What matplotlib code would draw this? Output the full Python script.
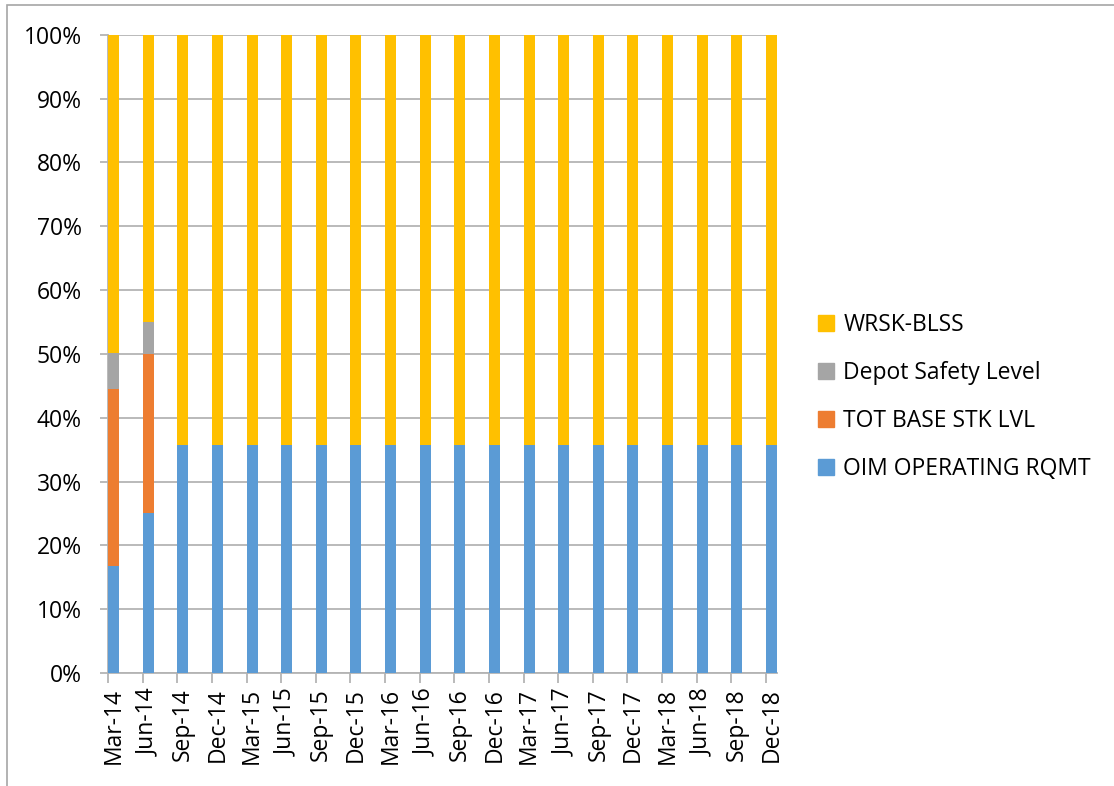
import matplotlib.pyplot as plt
from matplotlib.patches import Rectangle, Patch
import numpy as np

plt.rcParams['font.family'] = ['Open Sans', 'DejaVu Sans']

quarters = ['Mar-14', 'Jun-14', 'Sep-14', 'Dec-14', 'Mar-15', 'Jun-15', 'Sep-15', 'Dec-15',
            'Mar-16', 'Jun-16', 'Sep-16', 'Dec-16', 'Mar-17', 'Jun-17', 'Sep-17', 'Dec-17',
            'Mar-18', 'Jun-18', 'Sep-18', 'Dec-18']
# percent of total per quarter
oim_operating = [16.7, 25.0] + [35.7] * 18
tot_base_stk = [27.8, 25.0] + [0.0] * 18
depot_safety = [5.6, 5.0] + [0.0] * 18
wrsk_blss = [50.0, 45.0] + [64.3] * 18

series = [
    ('OIM OPERATING RQMT', oim_operating, '#5B9BD5'),
    ('TOT BASE STK LVL', tot_base_stk, '#ED7D31'),
    ('Depot Safety Level', depot_safety, '#A5A5A5'),
    ('WRSK-BLSS', wrsk_blss, '#FFC000'),
]

fig = plt.figure(figsize=(11.14, 7.86), dpi=100)
ax = fig.add_axes([108 / 1114, 113 / 786, 669 / 1114, 638.3 / 786])

# chart area border (Excel style)
fig.patches.append(Rectangle((7 / 1114, -0.1), 1.2, 1 - 5 / 786 + 0.1, transform=fig.transFigure,
                             fill=False, edgecolor='#A6A6A6', linewidth=1.2, zorder=0))

x = np.arange(len(quarters))
bw = 0.318
bottom = np.zeros(len(quarters))
for name, vals, col in series:
    ax.bar(x, vals, bw, bottom=bottom, align='edge', color=col, label=name, zorder=3)
    bottom += np.array(vals)

ax.set_xlim(0, len(quarters) - 1 + bw)
ax.set_ylim(0, 100)
ax.set_yticks(range(0, 101, 10))
ax.set_yticklabels([f'{v}%' for v in range(0, 101, 10)])
ax.yaxis.grid(True, color='#B4B4B4', linewidth=1.3, zorder=0)
ax.tick_params(axis='y', length=5.8, width=1.3, color='#B4B4B4', pad=13, labelsize=16.5)

ax.set_xticks(x)
ax.set_xticklabels([])
ax.set_xticks(x + bw / 2, minor=True)
ax.set_xticklabels(quarters, minor=True, rotation=90, fontsize=16.5)
ax.tick_params(axis='x', which='major', length=7, width=1.3, color='#B4B4B4')
ax.tick_params(axis='x', which='minor', length=0, pad=11)

for s in ['top', 'right']:
    ax.spines[s].set_visible(False)
for s in ['left', 'bottom']:
    ax.spines[s].set_color('#B4B4B4')
    ax.spines[s].set_linewidth(1.3)

handles = [Patch(color=col, label=name) for name, vals, col in series][::-1]
fig.legend(handles=handles, loc='center left', bbox_to_anchor=(818 / 1114, 1 - 397 / 786),
           frameon=False, fontsize=16.5, handlelength=0.7, handleheight=0.7,
           handletextpad=0.4, labelspacing=1.05, borderpad=0, borderaxespad=0)

fig.savefig('out.png', dpi=100)
